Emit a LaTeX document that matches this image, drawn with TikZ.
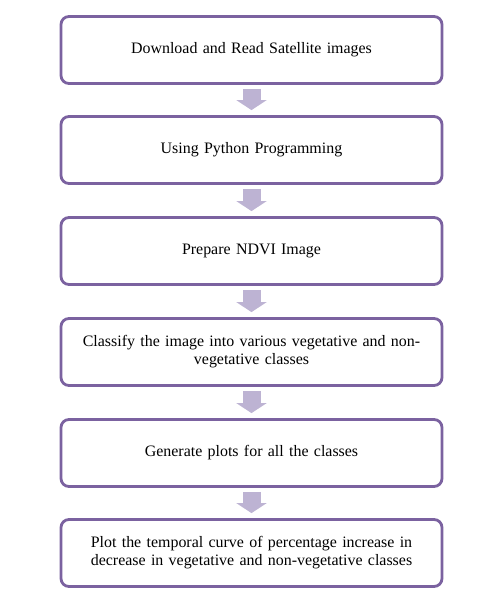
\documentclass[tikz,border=0pt]{standalone}
\usepackage{fontspec}
\setmainfont{Liberation Serif}
\usetikzlibrary{arrows.meta}
\definecolor{BoxLine}{HTML}{7B62A0}
\definecolor{ArrowFill}{HTML}{BDB3D3}

\begin{document}
\begin{tikzpicture}[x=1bp, y=-1bp,
    stepbox/.style={draw=BoxLine, line width=2.8bp, rounded corners=8bp, fill=white,
      minimum width=381bp, minimum height=67bp, inner sep=0pt,
      align=center, text width=360bp, font=\fontsize{16}{18}\selectfont},
    flow/.style={draw=ArrowFill, line width=18bp, shorten <=4bp, shorten >=5bp,
      -{Triangle[width=30bp, length=10bp]}}]
    \useasboundingbox (0,0) rectangle (486,606);
    % steps
    \node[stepbox] (s1) at (251.5,50) {Download and Read Satellite images};
    \node[stepbox] (s2) at (251.5,150) {Using Python Programming};
    \node[stepbox] (s3) at (251.5,251) {Prepare NDVI Image};
    \node[stepbox] (s4) at (251.5,352) {Classify the image into various vegetative and non-\\vegetative classes};
    \node[stepbox] (s5) at (251.5,453) {Generate plots for all the classes};
    \node[stepbox] (s6) at (251.5,553) {Plot the temporal curve of percentage increase in\\decrease in vegetative and non-vegetative classes};
    % arrows
    \foreach \a/\b in {s1/s2,s2/s3,s3/s4,s4/s5,s5/s6}{
      \draw[flow] (\a.south) -- (\b.north);
    }
\end{tikzpicture}
\end{document}
